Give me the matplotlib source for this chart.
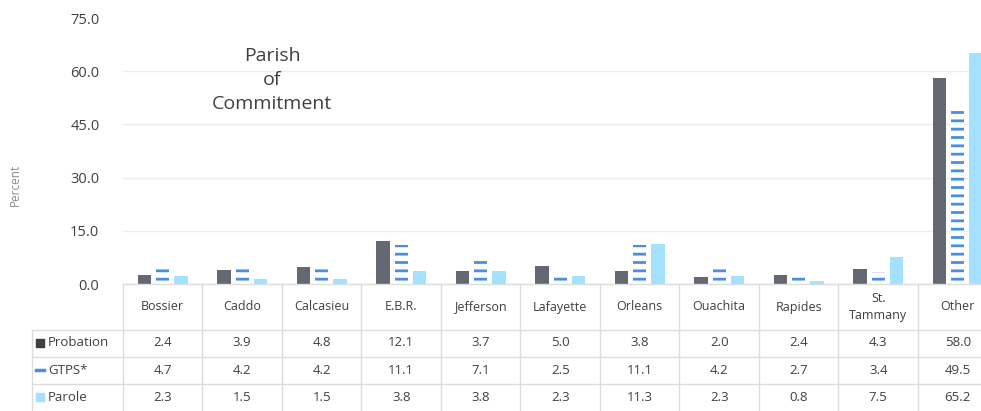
import matplotlib
matplotlib.use("Agg")
import matplotlib.pyplot as plt
import numpy as np

plt.rcParams['font.family'] = ['Open Sans', 'DejaVu Sans']
plt.rcParams['hatch.linewidth'] = 2.0

categories = ["Bossier", "Caddo", "Calcasieu", "E.B.R.", "Jefferson", "Lafayette",
              "Orleans", "Ouachita", "Rapides", "St.\nTammany", "Other"]
probation = [2.4, 3.9, 4.8, 12.1, 3.7, 5.0, 3.8, 2.0, 2.4, 4.3, 58.0]
gtps = [4.7, 4.2, 4.2, 11.1, 7.1, 2.5, 11.1, 4.2, 2.7, 3.4, 49.5]
parole = [2.3, 1.5, 1.5, 3.8, 3.8, 2.3, 11.3, 2.3, 0.8, 7.5, 65.2]
series_names = ["Probation", "GTPS*", "Parole"]
yticks = [0, 15, 30, 45, 60, 75]

W, H = 981, 411
fig = plt.figure(figsize=(W / 100, H / 100), dpi=100)
colw = 79.5
ax_left = 123
ax = fig.add_axes([ax_left / W, (H - 284) / H, 11 * colw / W, (284 - 18) / H])

x = np.arange(len(categories))
bw = 0.165
off = 0.23
c_prob = '#636873'
c_gtps = '#4a8fdf'
c_par = '#a3e1ff'
ax.bar(x - off, probation, bw, color=c_prob, zorder=3)
ax.bar(x, gtps, bw, facecolor='white', edgecolor=c_gtps, hatch='--', linewidth=0, zorder=3)
ax.bar(x + off, parole, bw, color=c_par, zorder=3)

ax.set_xlim(-0.5, len(categories) - 0.5)
ax.set_ylim(0, 75)
ax.set_yticks(yticks)
ax.set_yticklabels([f"{v:.1f}" for v in yticks], fontsize=10.5, color='#404040')
ax.tick_params(axis='y', length=0, pad=17)
ax.set_xticks([])
for s in ax.spines.values():
    s.set_visible(False)
for v in yticks[:-1]:
    ax.axhline(v, color='#ececec', lw=1, zorder=1)

fig.text(15 / W, 1 - 185 / H, "Percent", rotation=90, ha='center', va='center',
         fontsize=8.5, color='#8a8a8a')
fig.text(272 / W, 1 - 80 / H, "Parish\nof\nCommitment", ha='center', va='center',
         fontsize=14, color='#404040', linespacing=1.4)

# table
tax = fig.add_axes([ax_left / W, 0, 11 * colw / W, (H - 284) / H])
tax.set_xlim(-0.5, len(categories) - 0.5)
tax.set_ylim(H, 284)
tax.axis('off')
lc = '#dcdcdc'
lab_left = -0.5 - (ax_left - 32) / colw
for b in np.arange(-0.5, len(categories), 1.0):
    tax.plot([b, b], [284, H], color=lc, lw=1, clip_on=False)
tax.plot([lab_left, lab_left], [330, H], color=lc, lw=1, clip_on=False)
tax.plot([-0.5, len(categories)], [284.5, 284.5], color=lc, lw=1, clip_on=False)
for yy in [330, 357, 384]:
    tax.plot([lab_left, len(categories)], [yy, yy], color=lc, lw=1, clip_on=False)

for i, c in enumerate(categories):
    tax.text(i, 307, c, ha='center', va='center', fontsize=9, color='#404040',
             linespacing=1.3)

rows_y = [343, 370, 397]
for vals, yy in zip([probation, gtps, parole], rows_y):
    for i, v in enumerate(vals):
        tax.text(i, yy, f"{v:.1f}", ha='center', va='center', fontsize=9.5, color='#404040')

mx = -0.5 - (ax_left - 40) / colw
tx = -0.5 - (ax_left - 48) / colw
tax.scatter([mx], [343], marker='s', s=40, color='#404040', clip_on=False)
tax.plot([mx - 0.05, mx + 0.05], [370, 370], color=c_gtps, lw=2.5, clip_on=False)
tax.scatter([mx], [397], marker='s', s=40, color=c_par, clip_on=False)
for name, yy in zip(series_names, rows_y):
    tax.text(tx, yy, name, ha='left', va='center', fontsize=9.5, color='#404040')

fig.savefig("out.png", dpi=100)
